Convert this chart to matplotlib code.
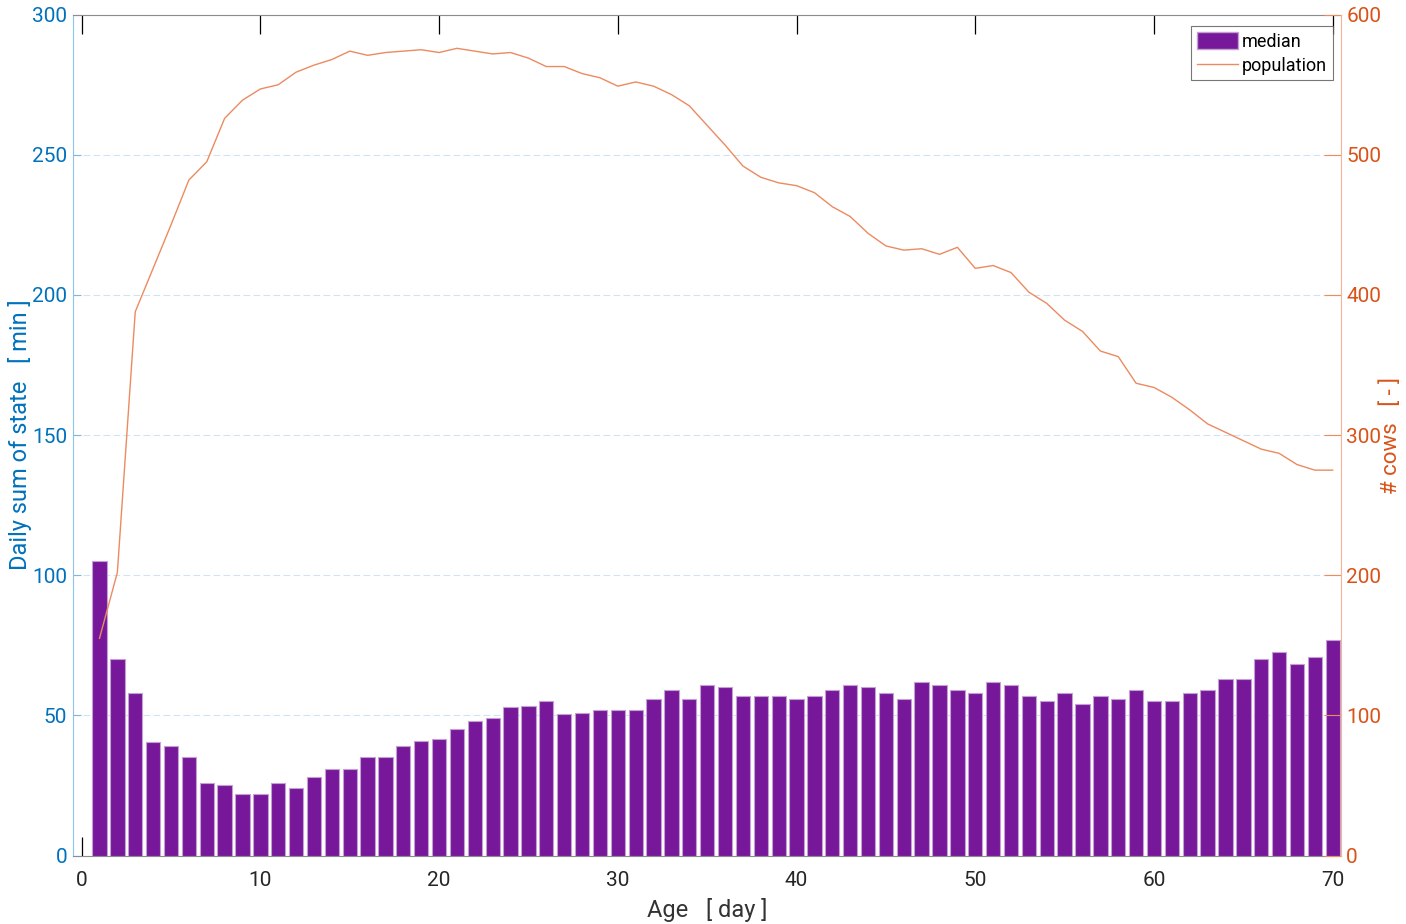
import numpy as np
import matplotlib.pyplot as plt
from matplotlib.patches import Patch
from matplotlib.lines import Line2D

plt.rcParams['font.family'] = ['Roboto', 'DejaVu Sans']

# data
days = list(range(1, 71))
median_min = [105, 70, 58, 40.5, 39, 35, 26, 25, 22, 22,
              26, 24, 28, 31, 31, 35, 35, 39, 41, 41.5,
              45, 48, 49, 53, 53.5, 55, 50.5, 51, 52, 52,
              52, 56, 59, 56, 61, 60, 57, 57, 57, 56,
              57, 59, 61, 60, 58, 56, 62, 61, 59, 58,
              62, 61, 57, 55, 58, 54, 57, 56, 59, 55,
              55, 58, 59, 63, 63, 70, 72.5, 68.5, 71, 77]
population = [155, 202, 388, 419, 450, 482, 495, 526, 539, 547,
              550, 559, 564, 568, 574, 571, 573, 574, 575, 573,
              576, 574, 572, 573, 569, 563, 563, 558, 555, 549,
              552, 549, 543, 535, 521, 507, 492, 484, 480, 478,
              473, 463, 456, 444, 435, 432, 433, 429, 434, 419,
              421, 416, 402, 394, 382, 374, 360, 356, 337, 334,
              327, 318, 308, 302, 296, 290, 287, 279, 275, 275]
left_ticks = [0, 50, 100, 150, 200, 250, 300]
right_ticks = [0, 100, 200, 300, 400, 500, 600]
x_ticks = [0, 10, 20, 30, 40, 50, 60, 70]

blue = '#0072BD'
orange = '#D95319'
purple = '#77189A'

fig = plt.figure(figsize=(14.06, 9.24), dpi=100)
ax = fig.add_axes([0.0517, 0.0741, 0.9019, 0.91])
ax2 = ax.twinx()

ax.bar(days, median_min, width=0.8, color=purple, edgecolor='#C3A0D3', linewidth=0.8, zorder=3)
ax2.plot(days, population, color='#EC8A60', linewidth=1.0)

ax.set_xlim(-0.5, 70.45)
ax.set_ylim(0, 300)
ax2.set_ylim(0, 600)
ax.set_xticks(x_ticks)
ax.set_yticks(left_ticks)
ax2.set_yticks(right_ticks)

ax.grid(axis='y', color='#CFE3F5', linestyle=(0, (6, 3)), linewidth=0.8, zorder=0)

ax.tick_params(axis='x', direction='in', top=True, length=14, width=0.9,
               labelsize=15, labelcolor='#262626', pad=11)
for t in ax.xaxis.get_major_ticks():
    t.tick1line.set_color('#333333')
    t.tick2line.set_color('#999999')
ax.tick_params(axis='y', direction='in', length=6, color='#7FB6E0',
               labelsize=15, labelcolor=blue, pad=4)
ax2.tick_params(axis='y', direction='in', length=12, color='#F08A5A',
                labelsize=15, labelcolor=orange, pad=4)

for s in ['top', 'bottom']:
    ax.spines[s].set_color('#8C8C8C')
ax.spines['left'].set_color('#8FC3E8')
ax.spines['right'].set_visible(False)
ax2.spines['left'].set_visible(False)
ax2.spines['top'].set_visible(False)
ax2.spines['bottom'].set_visible(False)
ax2.spines['right'].set_color('#F5B497')

ax.set_xlabel('Age   [ day ]', fontsize=17, color='#333333', labelpad=6)
ax.set_ylabel('Daily sum of state   [ min ]', fontsize=17, color=blue)
ax.yaxis.set_label_coords(-0.032, 0.5)
ax2.set_ylabel('# cows   [ - ]', fontsize=16, color=orange)
ax2.yaxis.set_label_coords(1.031, 0.5)

handles = [Patch(facecolor=purple, edgecolor='#C3A0D3'),
           Line2D([0], [0], color='#EC8A60', linewidth=1.0)]
leg = ax2.legend(handles, ['median', 'population'], loc='upper right',
                 bbox_to_anchor=(0.9935, 0.986), fontsize=13, frameon=True,
                 fancybox=False, edgecolor='#555555', handlelength=2.3, handleheight=1.1,
                 handletextpad=0.2, borderpad=0.3, labelspacing=0.3, borderaxespad=0)
leg.get_frame().set_linewidth(0.8)

fig.savefig('out.png', dpi=100)
